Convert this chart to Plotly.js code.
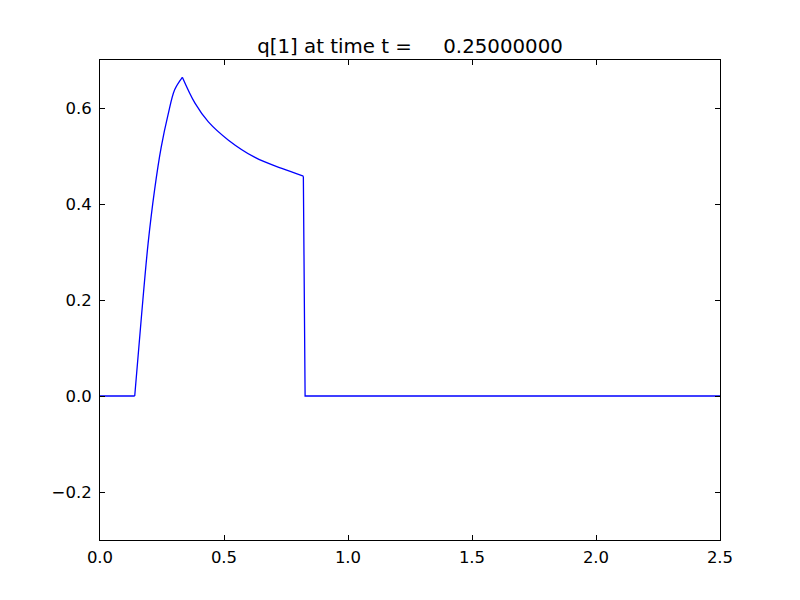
<!DOCTYPE html>
<html>
<head>
<meta charset="utf-8">
<script src="https://cdn.plot.ly/plotly-3.0.1.min.js"></script>
<style>html,body{margin:0;padding:0;background:#fff;}#plot{width:800px;height:600px;}</style>
</head>
<body>
<div id="plot"></div>
<script>
var titleText = "q[1] at time t =\u00A0\u00A0\u00A0\u00A0 0.25000000";
var xValues = [0.0, 0.140, 0.167, 0.194, 0.220, 0.247, 0.274, 0.301, 0.332,
  0.383, 0.437, 0.518, 0.625, 0.733, 0.820, 0.827, 2.5];
var yValues = [0.0, 0.0, 0.165, 0.318, 0.429, 0.519, 0.585, 0.638, 0.664,
  0.610, 0.571, 0.533, 0.497, 0.474, 0.458, 0.0, 0.0];
var xTicks = [0.0, 0.5, 1.0, 1.5, 2.0, 2.5];
var yTicks = [-0.2, 0.0, 0.2, 0.4, 0.6];

// segment break indices: start of rise, peak, end of decay
var iRise = 1, iPeak = 8, iDrop = 14;

var fontFam = "DejaVu Sans, sans-serif";
var axisCommon = {
  showgrid: false, zeroline: false, showline: true, linecolor: "#000", linewidth: 1,
  mirror: "allticks", ticks: "inside", ticklen: 5, tickwidth: 1, tickcolor: "#000",
  tickfont: {family: fontFam, size: 16.5, color: "#000"}, tickformat: ".1f"
};
var layout = {
  width: 800, height: 600,
  margin: {l: 100, r: 80, t: 60, b: 60, pad: 0},
  paper_bgcolor: "#fff", plot_bgcolor: "#fff",
  showlegend: false,
  title: {text: titleText, font: {family: fontFam, size: 19.8, color: "#000"},
    x: 0.5, xref: "paper", xanchor: "center", y: 1 - 46/600, yref: "container", yanchor: "middle"},
  xaxis: Object.assign({}, axisCommon, {range: [0, 2.5], tickvals: xTicks, ticklabelstandoff: 2}),
  yaxis: Object.assign({}, axisCommon, {range: [-0.3, 0.7], tickvals: yTicks, ticklabelstandoff: 4})
};
function seg(a, b, shape) {
  return {x: xValues.slice(a, b + 1), y: yValues.slice(a, b + 1), type: "scatter", mode: "lines",
    line: {color: "#0000ff", width: 1.3, shape: shape, smoothing: 1}, hoverinfo: "skip"};
}
var traces = [
  seg(0, iRise, "linear"),
  seg(iRise, iPeak, "spline"),
  seg(iPeak, iDrop, "spline"),
  seg(iDrop, xValues.length - 1, "linear")
];
Plotly.newPlot("plot", traces, layout, {displayModeBar: false, staticPlot: true});
</script>
</body>
</html>
